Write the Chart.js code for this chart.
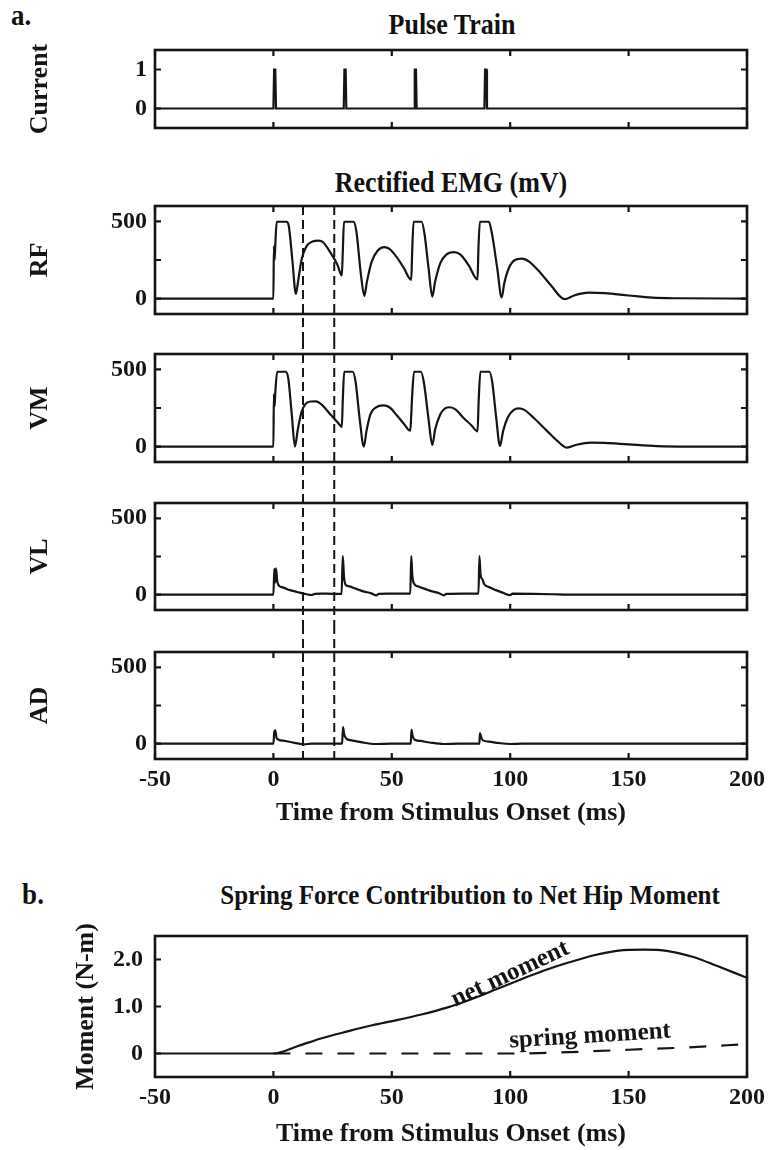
<!DOCTYPE html>
<html>
<head>
<meta charset="utf-8">
<title>Pulse Train, Rectified EMG and Hip Moment</title>
<script src="https://cdn.jsdelivr.net/npm/chart.js@4.4.0/dist/chart.umd.min.js"></script>
<style>
  body { margin: 0; background: #fff; }
  #page { position: relative; width: 773px; height: 1150px; overflow: hidden; font-family: "Liberation Serif", "Times New Roman", serif; color: #111; }
  #page canvas { position: absolute; left: 0; }
  .lbl { position: absolute; font-weight: bold; white-space: nowrap; transform: translate(-50%, -50%) scaleY(1.1); line-height: 1; }
</style>
</head>
<body>
<div id="page">
  <div class="lbl" style="left:21px;top:16px;font-size:27px">a.</div>
  <div class="lbl" style="left:452px;top:25px;font-size:26px">Pulse Train</div>
  <div class="lbl" style="left:451px;top:183px;font-size:26px">Rectified EMG (mV)</div>
  <div class="lbl" style="left:33px;top:895px;font-size:27px">b.</div>
  <div class="lbl" style="left:470px;top:895px;font-size:25px">Spring Force Contribution to Net Hip Moment</div>

  <canvas id="currentChart" width="773" height="140" style="top:0px"></canvas>
  <canvas id="rfChart" width="773" height="145" style="top:195px"></canvas>
  <canvas id="vmChart" width="773" height="140" style="top:340px"></canvas>
  <canvas id="vlChart" width="773" height="145" style="top:480px"></canvas>
  <canvas id="adChart" width="773" height="220" style="top:625px"></canvas>
  <canvas id="momentChart" width="773" height="290" style="top:860px"></canvas>
</div>

<script>
// ---- Data ----
const timeTicks = [-50, 0, 50, 100, 150, 200];
const markerTimes = [12.5, 25.7];          // dashed reference lines (ms)
const currentTicks = [0, 1];
const emgTicks = [0, 250, 500];
const momentTicks = [0, 1, 2];

// stimulus current
const currentT = [-50, 0, 0.3, 0.8, 1.1, 29.7, 30, 30.5, 30.8, 59.4, 59.7, 60.2, 60.5, 89.1, 89.4, 89.9, 90.2, 200];
const currentV = [0, 0, 1, 1, 0, 0, 1, 1, 0, 0, 1, 1, 0, 0, 1, 1, 0, 0];

// rectified EMG (mV)
const rfT = [-50, 0, 0.2, 0.5, 0.8, 1.4, 5.5, 6.5, 8, 9.5, 10.5, 12, 14, 16.5, 19, 21, 24, 27, 28.9,
  29.3, 29.8, 33.8, 35, 37, 38.4, 39.5, 41.5, 44, 46.8, 49, 52, 55, 58.2,
  58.6, 59.2, 62.6, 63.8, 65.5, 67.1, 68.3, 70.5, 73, 76.2, 79, 82.5, 86.2,
  86.6, 87.2, 91, 92.3, 94.5, 96.4, 97.5, 99.5, 102, 105, 108, 112, 117, 123,
  127, 133, 140, 150, 160, 170, 200];
const rfV = [0, 0, 340, 250, 350, 498, 498, 470, 250, 30, 120, 260, 340, 370, 375, 365, 300, 220, 150,
  300, 498, 498, 440, 150, 18, 110, 240, 310, 334, 322, 270, 200, 122,
  300, 498, 498, 420, 200, 13, 110, 230, 285, 301, 285, 215, 124,
  330, 498, 498, 420, 200, 7, 100, 200, 250, 259, 240, 180, 90, -4,
  20, 38, 35, 20, 6, 2, 0];

const vmT = [-50, 0, 0.2, 0.5, 0.8, 1.6, 5.2, 6.3, 7.8, 9.1, 10.3, 11.8, 13.5, 15.5, 18, 20.5, 24, 27, 28.9,
  29.3, 29.9, 33.5, 34.7, 36.5, 38.2, 39.3, 41, 43.2, 46.5, 49, 52, 55, 57.8,
  58.2, 58.6, 59.4, 62.3, 63.5, 65.5, 67.1, 68.3, 70.5, 72.5, 74.5, 77, 80, 83.5, 86.2,
  86.7, 87.4, 91.2, 92.4, 94, 95.7, 97, 99, 101.5, 103.6, 106, 110, 115, 120, 124,
  128, 134, 140, 150, 162, 175, 200];
const vmV = [0, 0, 340, 260, 350, 485, 485, 440, 200, 0, 110, 220, 275, 292, 293, 270, 210, 160, 128,
  300, 485, 485, 420, 170, 0, 100, 210, 253, 267, 255, 205, 150, 103,
  200, 330, 485, 485, 420, 180, 11, 110, 210, 248, 255, 240, 190, 140, 99,
  300, 485, 485, 420, 200, 4, 100, 190, 238, 247, 238, 185, 110, 35, -7,
  12, 26, 24, 14, 3, 0, 0];

const vlT = [-50, 0, 0.4, 0.8, 1.1, 1.6, 2.3, 4, 7, 10, 12, 14, 16, 17.5, 20, 25, 28.8,
  29.3, 29.8, 30.5, 32, 35, 38, 41.3, 43.5, 44.5, 48, 57.8,
  58.2, 58.7, 59.5, 61, 64, 67, 70, 72, 73, 80, 86.6,
  87, 87.5, 88.3, 89, 91, 94, 97, 100, 101, 110, 118, 124, 200];
const vlV = [0, 0, 170, 80, 172, 90, 60, 48, 30, 18, 10, 3, -2, 5, 7, 6, 6,
  253, 120, 65, 55, 38, 22, 9, -4, 5, 7, 7,
  253, 120, 70, 55, 38, 22, 10, -4, 5, 7, 7,
  253, 130, 100, 70, 50, 30, 12, -3, 7, 6, 3, 0, 0];

const adT = [-50, 0, 0.4, 0.8, 1.3, 2, 5, 9, 13, 16, 29,
  29.4, 29.9, 30.8, 33, 37, 43, 50, 58,
  58.3, 58.8, 59.7, 62, 66, 72, 78, 87,
  87.2, 87.7, 88.5, 91, 95, 100, 105, 200];
const adV = [0, 0, 80, 87, 40, 28, 18, 6, -4, 0, 0,
  109, 60, 33, 22, 10, -2, 0, 0,
  91, 50, 26, 18, 8, -2, 0, 0,
  70, 45, 22, 14, 5, -2, 0, 0];

// hip moment (N-m)
const netT = [-50, 0, 10.4, 20.8, 31.3, 41.7, 52.1, 62.5, 72.9, 83.3, 93.8, 104.2, 114.6, 125, 135.4, 145.8, 156.3, 166.7, 177, 187.5, 200];
const netV = [0, 0, 0.16, 0.33, 0.47, 0.6, 0.71, 0.83, 0.97, 1.15, 1.36, 1.57, 1.77, 1.94, 2.09, 2.19, 2.21, 2.18, 2.06, 1.86, 1.61];
const springT = [0, 50, 100, 125, 150, 175, 200];
const springV = [0, 0, 0, 0.03, 0.08, 0.13, 0.2];

// ---- Style ----
const INK = '#151515';
const FONT = '"Liberation Serif", "Times New Roman", serif';
const PLOT_LEFT = 155;
const PLOT_RIGHT_PAD = 26;
const TICK = 6;

Chart.defaults.font.family = FONT;
Chart.defaults.color = INK;

function pts(ts, vs) {
  return ts.map((t, i) => ({ x: t, y: vs[i] }));
}

function trace(label, data, extra) {
  return Object.assign({
    label: label,
    data: data,
    borderColor: INK,
    borderWidth: 2.2,
    pointRadius: 0,
    fill: false,
    cubicInterpolationMode: 'monotone'
  }, extra || {});
}

// Box frame with inward ticks, dashed markers and free text notes
const framePlugin = {
  id: 'frame',
  afterDatasetsDraw(chart, args, opts) {
    const { ctx, chartArea: a, scales } = chart;
    ctx.save();
    ctx.strokeStyle = INK;
    ctx.setLineDash([]);
    ctx.lineWidth = 2.6;
    ctx.strokeRect(a.left, a.top, a.right - a.left, a.bottom - a.top);

    ctx.lineWidth = 2.2;
    ctx.beginPath();
    (opts.xTicks || []).forEach(v => {
      const px = scales.x.getPixelForValue(v);
      ctx.moveTo(px, a.bottom); ctx.lineTo(px, a.bottom - TICK);
      if (opts.mirror) { ctx.moveTo(px, a.top); ctx.lineTo(px, a.top + TICK); }
    });
    (opts.yTicks || []).forEach(v => {
      const py = scales.y.getPixelForValue(v);
      ctx.moveTo(a.left, py); ctx.lineTo(a.left + TICK, py);
      if (opts.mirror) { ctx.moveTo(a.right, py); ctx.lineTo(a.right - TICK, py); }
    });
    ctx.stroke();

    if (opts.markers) {
      const m = opts.markers;
      const y0 = m.from === 'edge' ? 0 : a.top;
      const y1 = m.to === 'edge' ? chart.height : a.bottom;
      ctx.lineWidth = 2;
      ctx.setLineDash([9, 5]);
      ctx.beginPath();
      m.values.forEach(v => {
        const px = scales.x.getPixelForValue(v);
        ctx.moveTo(px, y0); ctx.lineTo(px, y1);
      });
      ctx.stroke();
    }

    (opts.notes || []).forEach(n => {
      ctx.save();
      ctx.translate(scales.x.getPixelForValue(n.x), scales.y.getPixelForValue(n.y));
      ctx.rotate(n.angle * Math.PI / 180);
      ctx.fillStyle = INK;
      ctx.font = 'bold 25px ' + FONT;
      ctx.textAlign = 'center';
      ctx.textBaseline = 'middle';
      ctx.fillText(n.text, 0, 0);
      ctx.restore();
    });
    ctx.restore();
  }
};

const tickFont = { size: 24, weight: 'bold' };
const titleFont = { size: 26, weight: 'bold' };

function yAxis(title, min, max, tickVals, fmt, titleX, pad) {
  return {
    type: 'linear',
    min: min,
    max: max,
    afterBuildTicks: s => { s.ticks = tickVals.map(v => ({ value: v })); },
    afterFit: s => { s.width = PLOT_LEFT; s.paddingTop = 0; s.paddingBottom = 0; },
    grid: { display: false, drawTicks: false },
    border: { display: false },
    ticks: { autoSkip: false, padding: pad, color: INK, font: tickFont, callback: fmt },
    title: { display: true, text: title, color: INK, font: titleFont, padding: { top: titleX - 15.6, bottom: 0 } }
  };
}

function xAxis(show, height, titlePad) {
  const axis = {
    type: 'linear',
    min: -50,
    max: 200,
    display: show,
    afterBuildTicks: s => { s.ticks = timeTicks.map(v => ({ value: v })); },
    grid: { display: false, drawTicks: false },
    border: { display: false }
  };
  if (show) {
    axis.afterFit = s => { s.height = height; s.paddingLeft = 0; s.paddingRight = 0; };
    axis.ticks = { autoSkip: false, maxRotation: 0, padding: 6.5, color: INK, font: tickFont, callback: v => v };
    axis.title = { display: true, text: 'Time from Stimulus Onset (ms)', color: INK, font: titleFont, padding: { top: 0, bottom: titlePad } };
  }
  return axis;
}

function makeChart(id, datasets, y, x, padding, frame) {
  return new Chart(document.getElementById(id), {
    type: 'line',
    data: { datasets: datasets },
    options: {
      responsive: false,
      animation: false,
      devicePixelRatio: 1,
      events: [],
      layout: { padding: Object.assign({ left: 0, right: PLOT_RIGHT_PAD }, padding) },
      scales: { x: x, y: y },
      plugins: { legend: { display: false }, tooltip: { enabled: false }, frame: frame }
    },
    plugins: [framePlugin]
  });
}

const emgFmt = v => (v === 250 ? '' : v);

// Pulse train
makeChart('currentChart',
  [trace('Current', pts(currentT, currentV), { cubicInterpolationMode: 'default', tension: 0 })],
  yAxis('Current', -0.5, 1.5, currentTicks, v => v, 40, 8),
  xAxis(false),
  { top: 50, bottom: 12 },
  { xTicks: timeTicks, yTicks: currentTicks, mirror: true });

// EMG panels
makeChart('rfChart',
  [trace('RF', pts(rfT, rfV))],
  yAxis('RF', -100, 600, emgTicks, emgFmt, 40, 8),
  xAxis(false),
  { top: 11, bottom: 26 },
  { xTicks: timeTicks, yTicks: emgTicks, mirror: true, markers: { values: markerTimes, from: 'area', to: 'edge' } });

makeChart('vmChart',
  [trace('VM', pts(vmT, vmV))],
  yAxis('VM', -100, 600, emgTicks, emgFmt, 40, 8),
  xAxis(false),
  { top: 14, bottom: 18 },
  { xTicks: timeTicks, yTicks: emgTicks, mirror: true, markers: { values: markerTimes, from: 'edge', to: 'edge' } });

makeChart('vlChart',
  [trace('VL', pts(vlT, vlV))],
  yAxis('VL', -100, 600, emgTicks, emgFmt, 40, 8),
  xAxis(false),
  { top: 23, bottom: 15 },
  { xTicks: timeTicks, yTicks: emgTicks, mirror: true, markers: { values: markerTimes, from: 'edge', to: 'edge' } });

makeChart('adChart',
  [trace('AD', pts(adT, adV))],
  yAxis('AD', -100, 600, emgTicks, emgFmt, 40, 8),
  xAxis(true, 86, 16.4),
  { top: 27, bottom: 0 },
  { xTicks: timeTicks, yTicks: emgTicks, mirror: true, markers: { values: markerTimes, from: 'edge', to: 'area' } });

// Hip moment
makeChart('momentChart',
  [
    trace('net moment', pts(netT, netV)),
    trace('spring moment', pts(springT, springV), { borderDash: [17, 15] })
  ],
  yAxis('Moment (N-m)', -0.5, 2.5, momentTicks, v => (v === 0 ? '0' : v.toFixed(1)), 86, 12),
  xAxis(true, 73, 0),
  { top: 76, bottom: 0 },
  {
    xTicks: timeTicks, yTicks: momentTicks, mirror: false,
    notes: [
      { text: 'net moment', x: 100, y: 1.69, angle: -25 },
      { text: 'spring moment', x: 133.7, y: 0.37, angle: -3.5 }
    ]
  });
</script>
</body>
</html>
